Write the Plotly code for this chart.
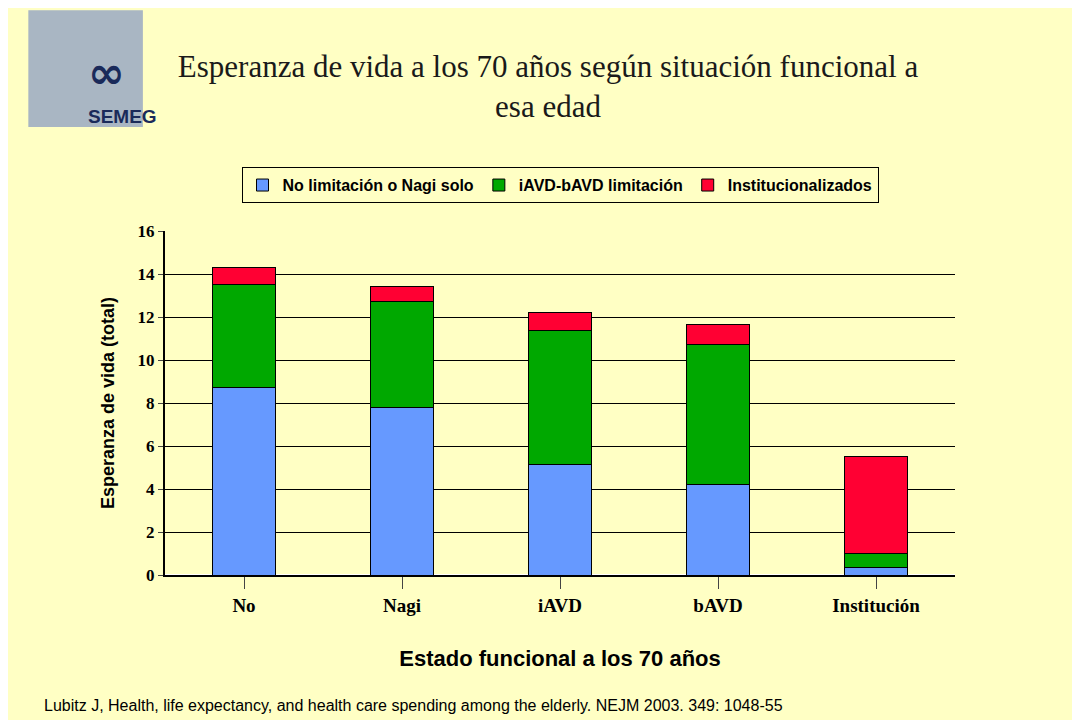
import plotly.graph_objects as go

categories = ["No", "Nagi", "iAVD", "bAVD", "Institución"]
no_limitacion = [8.7, 7.77, 5.16, 4.19, 0.33]
iavd_bavd = [4.83, 4.97, 6.19, 6.51, 0.65]
institucionalizados = [0.75, 0.66, 0.84, 0.93, 4.55]

bg = "#FFFFC4"
fig = go.Figure()
for name, vals, col in [("No limitación o Nagi solo", no_limitacion, "#6699FF"),
                        ("iAVD-bAVD limitación", iavd_bavd, "#00A800"),
                        ("Institucionalizados", institucionalizados, "#FF0033")]:
    fig.add_trace(go.Bar(x=categories, y=vals, name=name, width=0.4,
                         marker=dict(color=col, line=dict(color="black", width=1))))

fig.update_layout(
    barmode="stack", width=1080, height=720,
    paper_bgcolor=bg, plot_bgcolor=bg,
    margin=dict(l=157, r=133, t=223, b=153),
    showlegend=True,
    legend=dict(orientation="h", x=0.5, xanchor="center", y=1.081, yanchor="bottom",
                traceorder="normal",
                bordercolor="black", borderwidth=1, bgcolor=bg,
                font=dict(family="Arial", size=16, color="black", weight="bold"),
                tracegroupgap=0),
    title=dict(text="Esperanza de vida a los 70 años según situación funcional a<br>esa edad",
               x=0.5, xanchor="center", y=0.904, yanchor="middle",
               font=dict(family="Liberation Serif", size=31, color="#1A1A1A")),
    xaxis=dict(showline=True, linecolor="black", linewidth=2, ticks="outside", ticklen=12,
               tickfont=dict(family="Liberation Serif", size=19, color="black", weight="bold"),
               title=dict(text="Estado funcional a los 70 años",
                          font=dict(family="Arial", size=22, color="black", weight="bold"), standoff=36)),
    yaxis=dict(range=[0, 16], dtick=2, showline=True, linecolor="black", linewidth=2,
               ticks="outside", gridcolor="black", gridwidth=1,
               tickfont=dict(family="Liberation Serif", size=17, color="black", weight="bold"),
               title=dict(text="Esperanza de vida (total)",
                          font=dict(family="Arial", size=18, color="black", weight="bold"), standoff=18)),
)
fig.add_annotation(text="Lubitz J, Health, life expectancy, and health care spending among the elderly. NEJM 2003. 349: 1048-55",
                   xref="paper", yref="paper", x=-0.156, y=-0.378, xanchor="left", yanchor="middle",
                   showarrow=False, font=dict(family="Arial", size=16, color="black"))
# logo placeholder
fig.add_shape(type="rect", xref="paper", yref="paper", x0=-0.173, x1=-0.028, y0=1.302, y1=1.642,
              fillcolor="#A9B6C3", line=dict(width=0))
fig.add_annotation(text="<b>SEMEG</b>", xref="paper", yref="paper", x=-0.1, y=1.37,
                   showarrow=False, font=dict(family="Arial", size=19, color="#1A2A5A"))
fig.add_annotation(text="<b>∞</b>", xref="paper", yref="paper", x=-0.1, y=1.54,
                   showarrow=False, font=dict(family="DejaVu Sans", size=44, color="#1A2A5A"))
fig.write_html("out.html")
